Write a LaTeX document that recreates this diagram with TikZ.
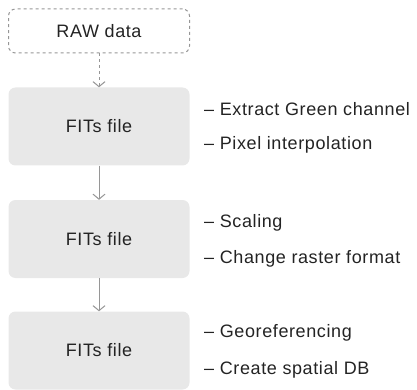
\documentclass[tikz,border=0pt]{standalone}
\usepackage{fontspec}
\setmainfont[LetterSpace=3.4]{Liberation Sans}
\usetikzlibrary{arrows.meta}
\definecolor{boxbg}{RGB}{232,232,232}
\definecolor{trait}{RGB}{150,150,150}
\definecolor{texte}{RGB}{35,35,35}
\tikzset{
	fichier/.style={fill=boxbg,rounded corners=7pt,minimum width=181pt,
		minimum height=78pt,inner sep=0pt,text=texte,font=\fontsize{18}{21}\selectfont},
	brut/.style={draw=trait,dashed,line width=1pt,rounded corners=7pt,
		minimum width=181pt,minimum height=44pt,inner sep=0pt,text=texte,
		font=\fontsize{18}{21}\selectfont},
	fleche/.style={draw=trait,line width=1pt,-{Straight Barb[length=5pt,width=12pt]}},
	tache/.style={anchor=west,inner sep=0pt,text=texte,font=\fontsize{18}{21}\selectfont}
}

\begin{document}
\begin{tikzpicture}[x=1pt,y=-1pt]
	\useasboundingbox (0,0) rectangle (417,390);
	
	% données brutes
	\node[brut] (raw) at (99,31) {RAW data};
	
	% les trois fichiers FITs
	\node[fichier] (f1) at (99,126.5) {FITs file};
	\node[fichier] (f2) at (99,239) {FITs file};
	\node[fichier] (f3) at (99,350.5) {FITs file};
	
	% flèches
	\draw[fleche,dashed] (raw) -- (f1);
	\draw[fleche] (f1) -- (f2);
	\draw[fleche] (f2) -- (f3);
	
	% traitements (à droite)
	\node[tache] (t1a) at (204,109) {– Extract Green channel};
	\node[tache] (t1b) at (204,145) {– Pixel interpolation};
	\node[tache] (t2a) at (204,223) {– Scaling};
	\node[tache] (t2b) at (204,259) {– Change raster format};
	\node[tache] (t3a) at (204,333) {– Georeferencing};
	\node[tache] (t3b) at (204,370) {– Create spatial DB};
	
\end{tikzpicture}
\end{document}
